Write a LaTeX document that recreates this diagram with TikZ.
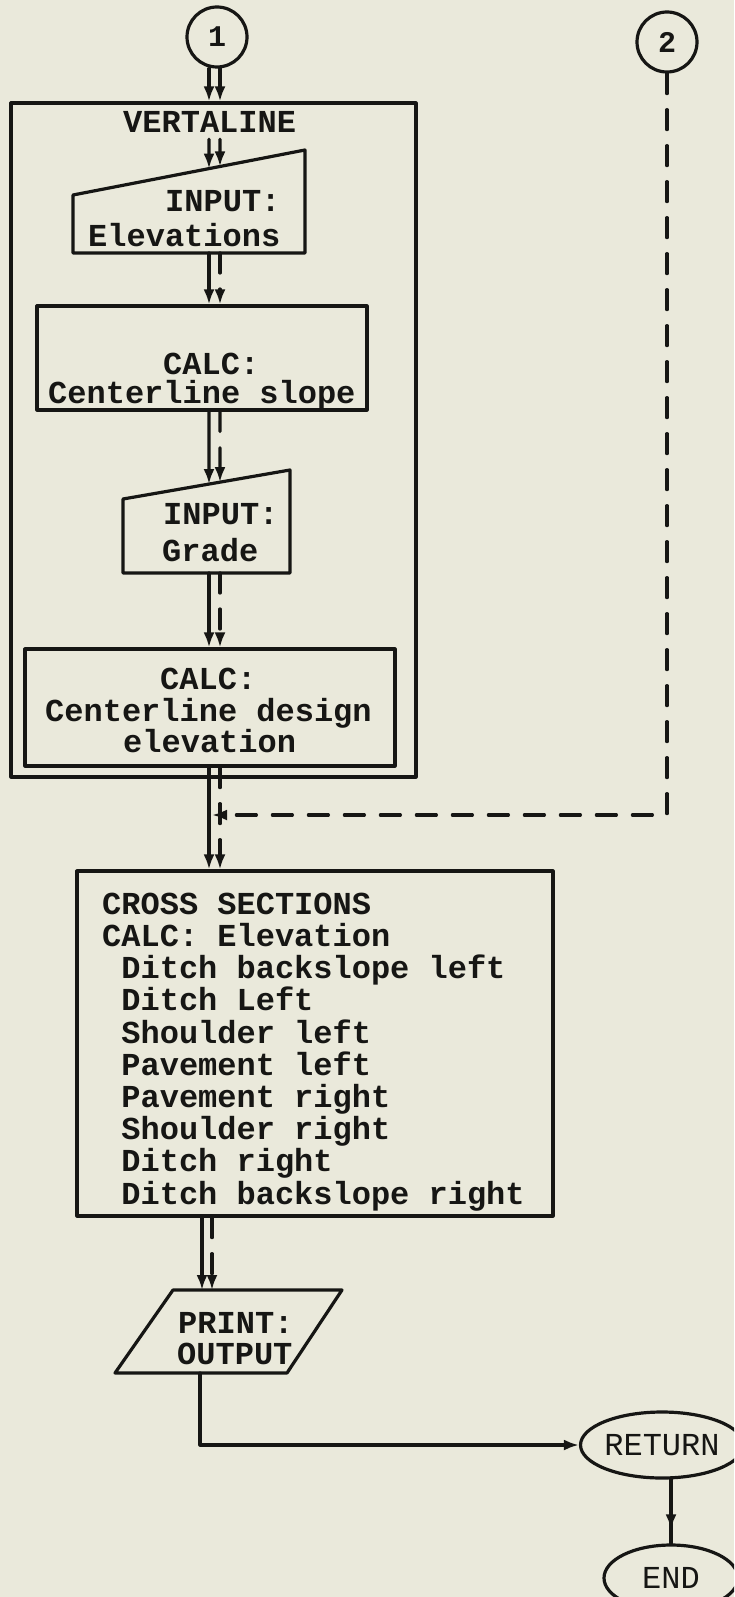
\documentclass[tikz,border=0pt]{standalone}
\usepackage{fontspec}
\newfontfamily\typer{Liberation Mono}
\usetikzlibrary{arrows.meta, positioning, calc, shapes.geometric}
\definecolor{paper}{RGB}{234,233,219}
\definecolor{ink}{RGB}{22,22,20}

\begin{document}
\begin{tikzpicture}[x=1pt, y=-1pt, line cap=round, line join=round,
    wire/.style={line width=3.2pt, draw=ink},
    box/.style={wire, rectangle, inner sep=0pt},
    conn/.style={wire, circle, minimum size=60pt, inner sep=0pt, text=ink,
      font=\typer\bfseries\fontsize{30}{30}\selectfont},
    term/.style={wire, ellipse, inner sep=0pt, text=ink,
      font=\typer\fontsize{32}{32}\selectfont},
    txt/.style={inner sep=0pt, anchor=base west, text=ink,
      font=\typer\bfseries\fontsize{32}{32.2}\selectfont},
    dline/.style={dash pattern=on 20pt off 16pt},
    >={Latex[length=15pt, width=11pt]}]
  % --- page ---------------------------------------------------------
  \path[use as bounding box, fill=paper] (0,0) rectangle (734,1597);
  \clip (0,0) rectangle (734,1597);
  % columns of the paired connectors
  \coordinate (sol) at (209,0);   \coordinate (sol2) at (209,100);
  \coordinate (das) at (220,0);   \coordinate (das2) at (220,100);
  \coordinate (solb) at (202,0);  \coordinate (dasb) at (212,0);
  \coordinate (outx) at (200,0);
  % --- entry connectors ---------------------------------------------
  \node[conn] (c1) at (217,37) {1};
  \node[conn] (c2) at (667,42) {2};
  % --- VERTALINE block ----------------------------------------------
  \node[box, minimum width=405, minimum height=674] (vert) at (213.5,440) {};
  \node[txt] (vtitle) at (123,133) {VERTALINE};
  % input: elevations (slanted top)
  \coordinate (elevTL) at (73,195);
  \coordinate (elevTR) at (305,150);
  \coordinate (elevBR) at (305,253);
  \coordinate (elevBL) at (73,253);
  \draw[wire] (elevTL) -- (elevTR) -- (elevBR) -- (elevBL) -- cycle;
  \node[txt] (elevA) at (165,212) {INPUT:};
  \node[txt] (elevB) at (88,247) {Elevations};
  % calc: slope
  \node[box, minimum width=330, minimum height=104] (slope) at (202,358) {};
  \node[txt] (slopeA) at (163,374) {CALC:};
  \node[txt] (slopeB) at (48,403) {Centerline slope};
  % input: grade
  \coordinate (gradeTL) at (123,499);
  \coordinate (gradeTR) at (290,470);
  \coordinate (gradeBR) at (290,573);
  \coordinate (gradeBL) at (123,573);
  \draw[wire] (gradeTL) -- (gradeTR) -- (gradeBR) -- (gradeBL) -- cycle;
  \node[txt] (gradeA) at (163,524) {INPUT:};
  \node[txt] (gradeB) at (162,561) {Grade};
  % calc: design elevation
  \node[box, minimum width=370, minimum height=117] (design) at (210,707.5) {};
  \node[txt] (designA) at (160,689) {CALC:};
  \node[txt] (designB) at (45,721) {Centerline design};
  \node[txt] (designC) at (123,752) {elevation};
  % --- cross sections -----------------------------------------------
  \node[box, minimum width=476, minimum height=345] (cross) at (315,1043.5) {};
  \node[txt, align=left] (crossT) at (102,1204) {CROSS SECTIONS\\
    CALC: Elevation\\
    \hphantom{X}Ditch backslope left\\
    \hphantom{X}Ditch Left\\
    \hphantom{X}Shoulder left\\
    \hphantom{X}Pavement left\\
    \hphantom{X}Pavement right\\
    \hphantom{X}Shoulder right\\
    \hphantom{X}Ditch right\\
    \hphantom{X}Ditch backslope right};
  \coordinate (join) at (212,815);
  % --- print and exit -----------------------------------------------
  \coordinate (prTL) at (173,1290);
  \coordinate (prTR) at (342,1290);
  \coordinate (prBR) at (287,1373);
  \coordinate (prBL) at (115,1373);
  \draw[wire] (prBL) -- (prTL) -- (prTR) -- (prBR) -- cycle;
  \node[txt] (prA) at (178,1333) {PRINT:};
  \node[txt] (prB) at (177,1364) {OUTPUT};
  \node[term, minimum width=156, minimum height=66] (ret) at (662,1445) {RETURN};
  \node[term, minimum width=134, minimum height=66] (fin) at (671,1578) {END};
  % --- connectors ---------------------------------------------------
  \draw[wire, ->] (c1.south -| sol) -- (vert.north -| sol);
  \draw[wire, dline, ->] (c1.south -| das) -- (vert.north -| das);
  \draw[wire, ->, shorten <=6pt] (vtitle.south -| sol)
     -- (intersection of elevTL--elevTR and sol--sol2);
  \draw[wire, ->, shorten <=6pt] (vtitle.south -| das)
     -- (intersection of elevTL--elevTR and das--das2);
  \draw[wire, ->] (elevBL -| sol) -- (slope.north -| sol);
  \draw[wire, dline, ->] (elevBL -| das) -- (slope.north -| das);
  \draw[wire, ->] (slope.south -| sol)
     -- (intersection of gradeTL--gradeTR and sol--sol2);
  \draw[wire, dline, ->] (slope.south -| das)
     -- (intersection of gradeTL--gradeTR and das--das2);
  \draw[wire, ->] (gradeBL -| sol) -- (design.north -| sol);
  \draw[wire, dline, ->] (gradeBL -| das) -- (design.north -| das);
  \draw[wire, ->] (design.south -| sol) -- (cross.north -| sol);
  \draw[wire, dline, ->] (design.south -| das) -- (cross.north -| das);
  \draw[wire, dline, ->] (c2.south) |- (join);
  \draw[wire, ->] (cross.south -| solb) -- (prTL -| solb);
  \draw[wire, dline, ->] (cross.south -| dasb) -- (prTL -| dasb);
  \draw[wire, ->] (prBL -| outx) |- (ret.west);
  \draw[wire] (fin.north |- ret.south) -- (fin.north);
  \draw[wire, ->, shorten >=14pt] (fin.north |- ret.south) -- (fin.north);
\end{tikzpicture}
\end{document}
